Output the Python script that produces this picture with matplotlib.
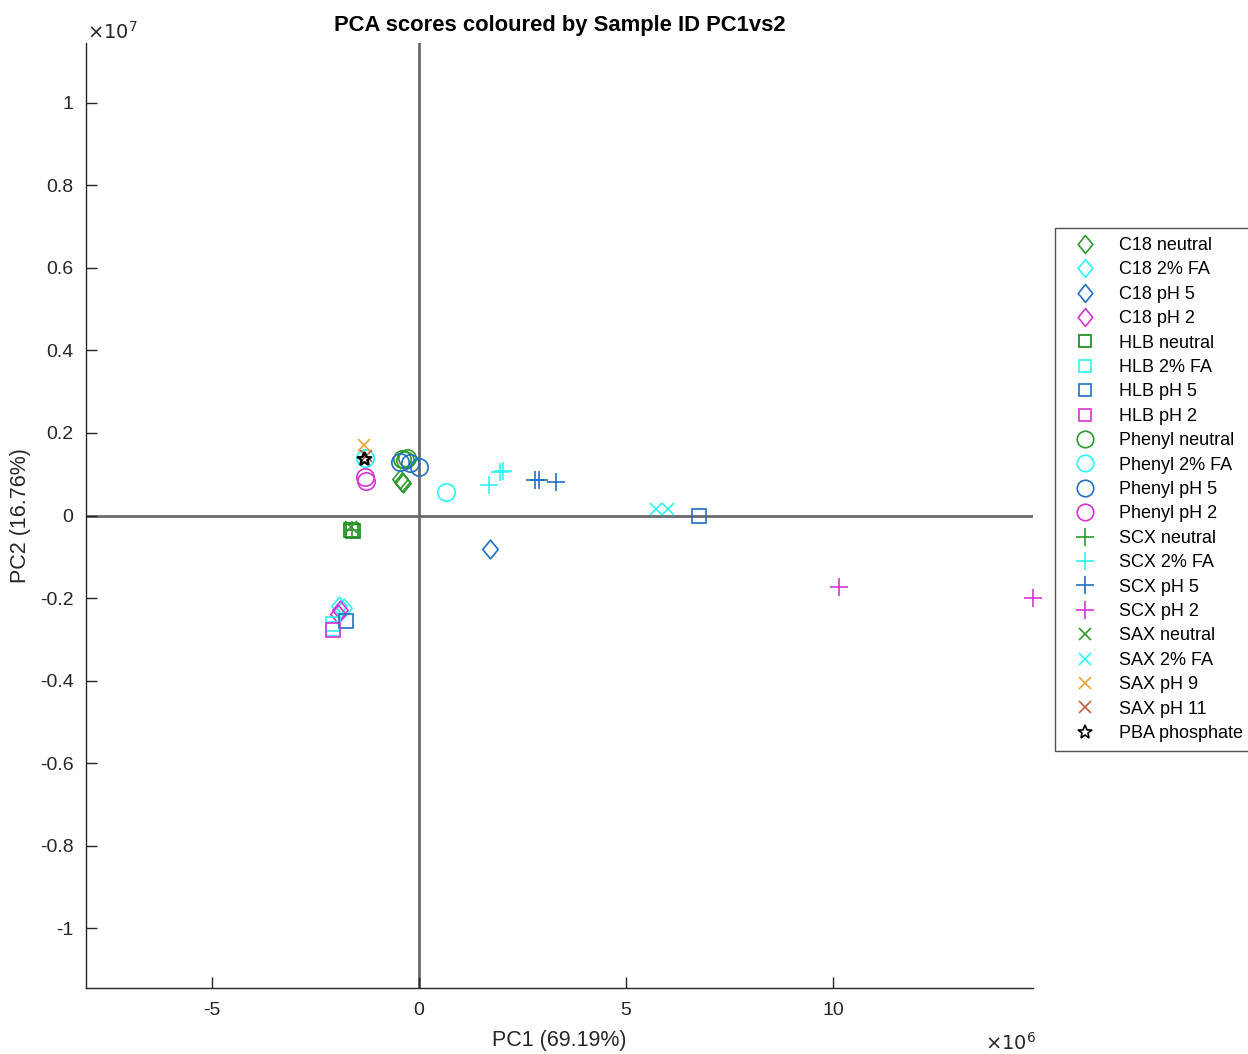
import matplotlib
matplotlib.use("Agg")
import matplotlib.pyplot as plt
from matplotlib.path import Path
from matplotlib.ticker import FuncFormatter

plt.rcParams['font.family'] = ['Liberation Sans', 'DejaVu Sans']

# PCA scores (PC1 in units of 1e6, PC2 in units of 1e6)
labels = ["C18 neutral", "C18 2% FA", "C18 pH 5", "C18 pH 2",
          "HLB neutral", "HLB 2% FA", "HLB pH 5", "HLB pH 2",
          "Phenyl neutral", "Phenyl 2% FA", "Phenyl pH 5", "Phenyl pH 2",
          "SCX neutral", "SCX 2% FA", "SCX pH 5", "SCX pH 2",
          "SAX neutral", "SAX 2% FA", "SAX pH 9", "SAX pH 11",
          "PBA phosphate"]

pc1 = [
    [-0.46, -0.40, -0.38],        # C18 neutral
    [-1.92, -1.80],               # C18 2% FA
    [1.72],                       # C18 pH 5
    [-1.96, -1.90],               # C18 pH 2
    [-1.63, -1.60],               # HLB neutral
    [-2.07, -2.07],               # HLB 2% FA
    [-1.75, 6.76],                # HLB pH 5
    [-2.07],                      # HLB pH 2
    [-0.40, -0.33, -0.28],        # Phenyl neutral
    [0.65, -1.30],                # Phenyl 2% FA
    [-0.45, -0.22, 0.00],         # Phenyl pH 5
    [-1.30, -1.28],               # Phenyl pH 2
    [-1.62],                      # SCX neutral
    [1.70, 1.95, 2.02],           # SCX 2% FA
    [2.80, 2.90, 3.32],           # SCX pH 5
    [10.14, 14.83],               # SCX pH 2
    [-1.65],                      # SAX neutral
    [5.72, 6.01],                 # SAX 2% FA
    [-1.33],                      # SAX pH 9
    [-1.28],                      # SAX pH 11
    [-1.33, -1.30],               # PBA phosphate
]
pc2 = [
    [0.88, 0.82, 0.78],
    [-2.20, -2.25],
    [-0.80],
    [-2.38, -2.30],
    [-0.36, -0.38],
    [-2.62, -2.75],
    [-2.55, 0.00],
    [-2.78],
    [1.38, 1.35, 1.40],
    [0.58, 1.40],
    [1.30, 1.27, 1.17],
    [0.94, 0.83],
    [-0.35],
    [0.73, 1.05, 1.07],
    [0.85, 0.87, 0.80],
    [-1.74, -2.01],
    [-0.28],
    [0.15, 0.15],
    [1.70],
    [1.45],
    [1.38, 1.36],
]

GREEN = '#2e9a2e'
HLBGREEN = '#138a13'
CYAN = '#2ef5f5'
BLUE = '#1f72c4'
MAGENTA = '#d633d6'
ORANGE = '#f0a030'
BROWN = '#c0603a'
BLACK = '#000000'

colors = [GREEN, CYAN, BLUE, MAGENTA,
          HLBGREEN, CYAN, BLUE, MAGENTA,
          GREEN, CYAN, BLUE, MAGENTA,
          GREEN, CYAN, BLUE, MAGENTA,
          GREEN, CYAN, ORANGE, BROWN,
          BLACK]

# diamond slightly taller than it is wide
diamond = Path([(0, 1), (0.82, 0), (0, -1), (-0.82, 0), (0, 1)],
               [Path.MOVETO, Path.LINETO, Path.LINETO, Path.LINETO, Path.CLOSEPOLY])

markers = [diamond] * 4 + ['s'] * 4 + ['o'] * 4 + ['+'] * 4 + ['x'] * 4 + ['*']
sizes = [13.5] * 4 + [9.5] * 4 + [12.5] * 4 + [13] * 4 + [9] * 4 + [10.5]

fig = plt.figure(figsize=(12.48, 10.54), dpi=100)
ax = fig.add_axes([86 / 1248, 1 - 988 / 1054, (1033 - 86) / 1248, (988 - 43) / 1054])

xmin, xmax = -8.04, 14.83
ymin, ymax = -11.45, 11.45

ax.axvline(0, color='#6a6a6a', lw=2, zorder=1)
ax.axhline(0, color='#6a6a6a', lw=2, zorder=1)

for lab, xs, ys, c, m, s in zip(labels, pc1, pc2, colors, markers, sizes):
    ax.plot(xs, ys, linestyle='none', marker=m, markersize=s,
            markerfacecolor='none', markeredgecolor=c, markeredgewidth=1.2,
            label=lab, zorder=3, clip_on=False)

ax.set_xlim(xmin, xmax)
ax.set_ylim(ymin, ymax)
ax.set_xticks([-5, 0, 5, 10])
ax.set_yticks([-10, -8, -6, -4, -2, 0, 2, 4, 6, 8, 10])
ax.xaxis.set_major_formatter(FuncFormatter(lambda v, p: f"{v:g}"))
ax.yaxis.set_major_formatter(FuncFormatter(
    lambda v, p: "0" if v == 0 else ("1" if v == 10 else ("-1" if v == -10 else f"{v / 10:.1f}"))))

for side in ('top', 'right'):
    ax.spines[side].set_visible(False)
for side in ('left', 'bottom'):
    ax.spines[side].set_color('#262626')
    ax.spines[side].set_linewidth(1.0)
ax.tick_params(direction='in', length=8, width=1.0, colors='#262626',
               labelsize=14)
ax.tick_params(axis='y', pad=9)
ax.tick_params(axis='x', pad=10)

ax.set_xlabel("PC1 (69.19%)", fontsize=15.5, color='#262626', labelpad=8)
ax.set_ylabel("PC2 (16.76%)", fontsize=15.5, color='#262626', labelpad=6)
ax.set_title("PCA scores coloured by Sample ID PC1vs2", fontsize=15.8,
             fontweight='bold', pad=9)

fig.text(87 / 1248, 1 - 32 / 1054, r"$\times10^{7}$", fontsize=14,
         color='#262626', ha='left', va='center', math_fontfamily='dejavusans')
fig.text(985 / 1248, 1 - 1043 / 1054, r"$\times10^{6}$", fontsize=14,
         color='#262626', ha='left', va='center', math_fontfamily='dejavusans')

leg = fig.legend(loc='upper left', bbox_to_anchor=(1055 / 1248, 1 - 228 / 1054),
                 fontsize=13, frameon=True, fancybox=False, edgecolor='#262626',
                 handlelength=2.3, handletextpad=0.72, labelspacing=0.41,
                 borderpad=0.5, borderaxespad=0, markerscale=0.95)
leg.get_frame().set_linewidth(1.0)

fig.savefig("out.png", dpi=100)
